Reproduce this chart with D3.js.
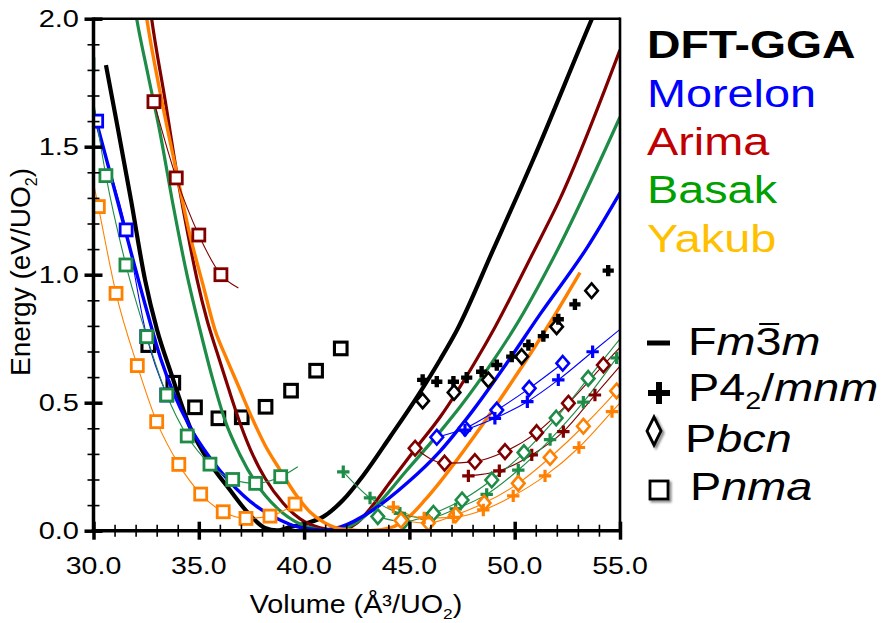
<!DOCTYPE html>
<html><head><meta charset="utf-8">
<script src="https://cdn.jsdelivr.net/npm/d3@7"></script>
<style>body{margin:0;background:#fff}svg{display:block;font-family:"Liberation Sans",Arial,sans-serif}</style>
</head><body><svg id="c" width="890" height="623"></svg>
<script>
// ---------- axis ticks ----------
const xMajorTicks = [30, 35, 40, 45, 50, 55];
const yMajorTicks = [0, 0.5, 1.0, 1.5, 2.0];
const xMinorTicks = d3.range(30, 55.01, 1);
const yMinorTicks = d3.range(0, 2.001, 0.1);

// ---------- Fm-3m (thick curves) ----------
const fm3mDFT = [[30.59,1.819],[31.16,1.57],[31.78,1.292],[32.45,0.979],[33.02,0.784],[33.63,0.628],[34.58,0.405],[35.53,0.264],[36.48,0.159],[37.43,0.061],[38.14,0.011],[38.71,0.001],[39.33,0.014],[40.14,0.030],[40.9,0.054],[41.85,0.12],[42.8,0.215],[44.08,0.366],[45.36,0.522],[46.45,0.667],[47.26,0.784],[48.97,1.096],[50.87,1.448],[53.67,2.0],[54.05,2.073]];
const fm3mArima = [[32.64,2.073],[32.76,2.0],[33.4,1.682],[34.01,1.37],[34.49,1.155],[34.92,0.98],[35.39,0.823],[35.86,0.698],[36.39,0.561],[36.96,0.42],[37.57,0.295],[38.14,0.206],[39.0,0.108],[39.81,0.046],[40.76,0.011],[41.71,0.001],[42.51,0.03],[43.27,0.1],[44.08,0.189],[45.27,0.318],[46.45,0.443],[48.12,0.659],[49.07,0.796],[50.82,1.077],[52.15,1.296],[55.0,1.878]];
const fm3mBasak = [[31.9,2.073],[32.05,2.0],[32.59,1.78],[33.16,1.554],[33.78,1.272],[34.44,0.999],[35.06,0.784],[35.67,0.589],[36.24,0.432],[36.96,0.296],[37.72,0.186],[38.71,0.089],[39.81,0.026],[40.52,0.007],[41.23,0.001],[42.18,0.018],[43.27,0.085],[44.89,0.237],[46.45,0.386],[47.4,0.483],[49.07,0.675],[50.02,0.796],[51.91,1.077],[55.0,1.616]];
const fm3mMorelon = [[30.0,1.64],[30.78,1.40],[31.58,1.15],[32.53,0.86],[33.2,0.67],[33.79,0.54],[34.58,0.405],[35.53,0.285],[36.48,0.19],[37.75,0.095],[38.86,0.042],[39.66,0.016],[40.76,0.003],[41.7,0.014],[43.27,0.081],[44.89,0.186],[46.45,0.31],[48.02,0.47],[49.63,0.655],[51.2,0.845],[53.43,1.105],[55.0,1.32]];
const fm3mYakub = [[32.4,2.073],[32.53,2.0],[33.16,1.714],[33.87,1.429],[34.58,1.155],[35.2,0.96],[35.77,0.784],[36.29,0.678],[36.86,0.569],[37.53,0.44],[38.14,0.335],[38.86,0.237],[39.62,0.139],[40.28,0.073],[40.99,0.03],[41.94,0.005],[43.13,0.0],[44.08,0.011],[45.03,0.058],[45.74,0.12],[46.45,0.19],[48.02,0.362],[49.73,0.565],[51.76,0.823],[53.1,1.008]];

// ---------- Pnma (squares) ----------
const pnmaDFT = [[32.6,0.725],[33.79,0.578],[34.82,0.482],[35.93,0.439],[37.04,0.443],[38.17,0.484],[39.38,0.547],[40.57,0.625],[41.74,0.712]];
const pnmaMorelon = [[29.4,1.9],[30.15,1.6],[31.55,1.175],[32.53,0.758],[33.48,0.53]];
const pnmaArima = [[32.87,1.676],[33.93,1.378],[35.0,1.155],[36.05,1.0]];
const pnmaArimaTail = [[36.88,0.948]];
const pnmaBasak = [[29.74,1.82],[30.59,1.387],[31.54,1.038],[32.53,0.758],[33.48,0.53],[34.45,0.37],[35.53,0.26],[36.61,0.2],[37.7,0.185],[38.89,0.211]];
const pnmaBasakTail = [[39.7,0.25]];
const pnmaYakub = [[29.4,1.6],[30.23,1.266],[31.07,0.927],[32.08,0.645],[33.0,0.426],[34.05,0.259],[35.09,0.143],[36.16,0.074],[37.24,0.048],[38.38,0.057],[39.57,0.104]];

// ---------- Pbcn (diamonds) ----------
const pbcnDFT = [[45.63,0.507],[47.12,0.54],[48.75,0.589],[50.33,0.68],[51.99,0.797],[53.65,0.9375]];
const pbcnMorelon = [[46.3,0.365],[47.64,0.40],[49.15,0.471],[50.69,0.556],[52.28,0.654]];
const pbcnArima = [[45.27,0.322],[46.67,0.264],[48.11,0.27],[49.54,0.309],[51.04,0.383],[52.55,0.498],[54.21,0.647]];
const pbcnArimaTail = [[55.5,0.76]];
const pbcnBasak = [[43.5,0.055],[44.71,0.035],[46.14,0.068],[47.5,0.12],[48.91,0.198],[50.44,0.305],[51.97,0.44],[53.49,0.595]];
const pbcnBasakTail = [[55.5,0.8]];
const pbcnYakub = [[44.6,0.04],[45.9,0.03],[47.2,0.062],[48.55,0.108],[50.17,0.185],[51.68,0.286],[53.26,0.408],[54.84,0.546]];
const pbcnYakubTail = [[55.5,0.61]];

// ---------- P4_2/mnm (plus) ----------
const p42DFT = [[45.63,0.589],[46.3,0.582],[47.09,0.582],[47.72,0.598],[48.43,0.621],[49.15,0.647],[49.86,0.68],[50.65,0.725],[51.36,0.76],[52.07,0.826],[52.86,0.884],[54.44,1.016]];
const p42Morelon = [[47.64,0.393],[49.06,0.439],[50.6,0.504],[52.07,0.589],[53.7,0.699]];
const p42MorelonTail = [[55.5,0.82]];
const p42Arima = [[47.8,0.214],[49.27,0.234],[50.81,0.296],[52.31,0.387],[53.81,0.53]];
const p42ArimaTail = [[55.5,0.69]];
const p42Basak = [[41.86,0.23],[43.13,0.128],[44.55,0.068],[45.82,0.048],[47.2,0.085],[48.67,0.142],[50.17,0.237],[51.68,0.356],[53.26,0.502],[54.84,0.675]];
const p42Yakub = [[44.24,0.092],[45.7,0.05],[47.09,0.052],[48.51,0.081],[49.93,0.136],[51.44,0.214],[53.05,0.325],[54.62,0.465]];
const p42YakubTail = [[55.5,0.545]];

// ---------- legend ----------
const legendNames = ["Morelon", "Arima", "Basak", "Yakub"];
const legendColors = ["#0000ff", "#c00000", "#00a000", "#ffc000"];

// ---------- colours ----------
const C = {dft:"#000000", morelon:"#0000ff", arima:"#800000", basak:"#1e8c46", yakub:"#ff8000"};

const svg = d3.select("#c");
const x = d3.scaleLinear().domain([30, 55]).range([93.5, 620]);
const y = d3.scaleLinear().domain([0, 2]).range([530.7, 18.7]);
const FONT = '"Liberation Sans",Arial,sans-serif';

svg.append("defs").append("clipPath").attr("id","clip")
  .append("rect").attr("x",x(30)).attr("y",y(2)).attr("width",x(55)-x(30)).attr("height",y(0)-y(2));
const filt = svg.select("defs").append("filter").attr("id","sh").attr("x","-50%").attr("y","-50%").attr("width","200%").attr("height","200%");
filt.append("feGaussianBlur").attr("stdDeviation",1.2);

const plot = svg.append("g").attr("clip-path","url(#clip)");
const line = d3.line().x(d=>x(d[0])).y(d=>y(d[1])).curve(d3.curveMonotoneX);

function marks(data, type, color, big) {
  const g = plot.append("g");
  data.forEach(d => {
    const px = x(d[0]), py = y(d[1]);
    if (type === "sq") {
      const h = big ? 6.3 : 6;
      g.append("rect").attr("x",px-h).attr("y",py-h).attr("width",2*h).attr("height",2*h)
        .attr("fill","#fff").attr("stroke",color).attr("stroke-width", big ? 3.1 : 2.8);
    } else if (type === "di") {
      const w = 6.3, h = 7.3;
      g.append("path").attr("d",`M${px},${py-h}L${px+w},${py}L${px},${py+h}L${px-w},${py}Z`)
        .attr("fill","#fff").attr("stroke",color).attr("stroke-width",2.6);
    } else {
      const s = big ? 5.6 : 6.2;
      g.append("path").attr("d",`M${px-s},${py}H${px+s}M${px},${py-s}V${py+s}`)
        .attr("stroke",color).attr("stroke-width", big ? 4.4 : 3.2).attr("fill","none");
    }
  });
}
function thin(data, color) {
  plot.append("path").attr("d", line(data)).attr("fill","none").attr("stroke",color).attr("stroke-width",1.1);
}
function thick(data, color, w) {
  plot.append("path").attr("d", line(data)).attr("fill","none").attr("stroke",color).attr("stroke-width",w);
}

// black Pnma squares (under curves)
marks(pnmaDFT, "sq", C.dft, true);

// thick Fm-3m curves
thick(fm3mDFT, C.dft, 4.2);
thick(fm3mArima, C.arima, 3.2);
thick(fm3mBasak, C.basak, 3.2);
thick(fm3mMorelon, C.morelon, 3.4);
thick(fm3mYakub, C.yakub, 3.4);

// thin series
const series = [
  [pnmaMorelon, [], "sq", C.morelon],
  [pbcnMorelon, [], "di", C.morelon],
  [p42Morelon, p42MorelonTail, "pl", C.morelon],
  [pnmaArima, pnmaArimaTail, "sq", C.arima],
  [pbcnArima, pbcnArimaTail, "di", C.arima],
  [p42Arima, p42ArimaTail, "pl", C.arima],
  [pnmaBasak, pnmaBasakTail, "sq", C.basak],
  [pbcnBasak, pbcnBasakTail, "di", C.basak],
  [p42Basak, [], "pl", C.basak],
  [pnmaYakub, [], "sq", C.yakub],
  [pbcnYakub, pbcnYakubTail, "di", C.yakub],
  [p42Yakub, p42YakubTail, "pl", C.yakub]
];
series.forEach(s => thin(s[0].concat(s[1]), s[3]));
series.forEach(s => marks(s[0], s[2], s[3], false));

// black markers
marks(pbcnDFT, "di", C.dft, true);
marks(p42DFT, "pl", C.dft, true);

// ---------- axes ----------
function tickAxis(axisFn, scale, vals, w, tr) {
  const g = svg.append("g").attr("transform", tr)
    .call(axisFn(scale).tickValues(vals).tickFormat("").tickSizeOuter(0));
  g.select(".domain").remove();
  g.selectAll(".tick line").attr("stroke","#000").attr("stroke-width",w);
  return g;
}
tickAxis(d3.axisBottom, x, xMinorTicks, 1.6, `translate(0,${y(0)})`).selectAll(".tick line").attr("y1",-6).attr("y2",6);
tickAxis(d3.axisBottom, x, xMajorTicks, 3.5, `translate(0,${y(0)})`).selectAll(".tick line").attr("y1",-9).attr("y2",9);
tickAxis(d3.axisLeft, y, yMinorTicks, 1.6, `translate(${x(30)},0)`).selectAll(".tick line").attr("x1",-6).attr("x2",6);
tickAxis(d3.axisLeft, y, yMajorTicks, 3.5, `translate(${x(30)},0)`).selectAll(".tick line").attr("x1",-9).attr("x2",9);

// frame
svg.append("line").attr("x1",x(30)).attr("x2",x(55)).attr("y1",y(2)).attr("y2",y(2)).attr("stroke","#000").attr("stroke-width",2.6);
svg.append("line").attr("x1",x(55)).attr("x2",x(55)).attr("y1",y(2)-1.3).attr("y2",y(0)).attr("stroke","#000").attr("stroke-width",2.6);
svg.append("line").attr("x1",x(30)).attr("x2",x(30)).attr("y1",y(2)-1.3).attr("y2",y(0)+1.7).attr("stroke","#000").attr("stroke-width",3.5);
svg.append("line").attr("x1",x(30)-1.7).attr("x2",x(55)+1.3).attr("y1",y(0)).attr("y2",y(0)).attr("stroke","#000").attr("stroke-width",3.5);

// tick labels
xMajorTicks.forEach(v => {
  svg.append("text").attr("transform",`translate(${x(v)},573.5) scale(1.24,1)`)
    .attr("text-anchor","middle").attr("font-size",23).attr("font-family",FONT).attr("fill","#000").text(v.toFixed(1));
});
yMajorTicks.forEach(v => {
  svg.append("text").attr("transform",`translate(79,${y(v)+8.3}) scale(1.26,1)`)
    .attr("text-anchor","end").attr("font-size",23).attr("font-family",FONT).attr("fill","#000").text(v.toFixed(1));
});

// axis titles
const xt = svg.append("text").attr("transform","translate(356,613) scale(1.15,1)")
  .attr("text-anchor","middle").attr("font-size",25).attr("font-family",FONT).attr("fill","#000");
xt.append("tspan").text("Volume (Å³/UO");
xt.append("tspan").attr("font-size",15).attr("dy",6).text("2");
xt.append("tspan").attr("dy",-6).text(")");

const yt = svg.append("text").attr("transform","translate(30,272) rotate(-90)")
  .attr("text-anchor","middle").attr("font-size",28).attr("font-family",FONT).attr("fill","#000");
yt.append("tspan").text("Energy (eV/UO");
yt.append("tspan").attr("font-size",16).attr("dy",7).text("2");
yt.append("tspan").attr("dy",-7).text(")");

// ---------- legend ----------
svg.append("text").attr("transform","translate(647,58.3) scale(1.22,1)")
  .attr("font-size",38).attr("font-weight","bold").attr("font-family",FONT).attr("fill","#000").text("DFT-GGA");
legendNames.forEach((n,i) => {
  svg.append("text").attr("transform",`translate(647,${106.7 + i*48.3}) scale(1.2,1)`)
    .attr("font-size",39).attr("font-family",FONT).attr("fill",legendColors[i]).text(n);
});

function rich(gx, gy, parts) {
  const g = svg.append("g").attr("transform",`translate(${gx},${gy}) scale(1.2,1)`);
  let cx = 0;
  parts.forEach(p => {
    const t = g.append("text").attr("x",cx).attr("y",p.dy||0).attr("font-size",p.size||39)
      .attr("font-family",FONT).attr("font-style",p.it?"italic":"normal").attr("fill","#000").text(p.t);
    const w = t.node().getComputedTextLength();
    if (p.over) g.append("line").attr("x1",cx+3).attr("x2",cx+w-2).attr("y1",-31).attr("y2",-31).attr("stroke","#000").attr("stroke-width",2);
    cx += w;
  });
}
// symbols
svg.append("rect").attr("x",647).attr("y",340.5).attr("width",23).attr("height",5).attr("fill","#000");
svg.append("rect").attr("x",648).attr("y",390).attr("width",22).attr("height",6).attr("fill","#000");
svg.append("rect").attr("x",656).attr("y",382).attr("width",6).attr("height",22).attr("fill","#000");
svg.append("path").attr("d","M656,419L663,433L656,447L649,433Z").attr("fill","none").attr("stroke","#888").attr("stroke-width",3).attr("filter","url(#sh)");
svg.append("path").attr("d","M654,417L661,431L654,445L647,431Z").attr("fill","#fff").attr("stroke","#000").attr("stroke-width",2.8);
svg.append("rect").attr("x",652).attr("y",483).attr("width",18).attr("height",18).attr("fill","none").attr("stroke","#888").attr("stroke-width",3).attr("filter","url(#sh)");
svg.append("rect").attr("x",650).attr("y",481).attr("width",18).attr("height",18).attr("fill","#fff").attr("stroke","#000").attr("stroke-width",2.8);

rich(688, 355, [{t:"F"},{t:"m",it:true},{t:"3",over:true},{t:"m",it:true}]);
rich(688, 401, [{t:"P4"},{t:"2",size:24,dy:8},{t:"/"},{t:"mnm",it:true}]);
rich(685, 451.7, [{t:"P"},{t:"bcn",it:true}]);
rich(690, 500, [{t:"P"},{t:"nma",it:true}]);
</script></body></html>
